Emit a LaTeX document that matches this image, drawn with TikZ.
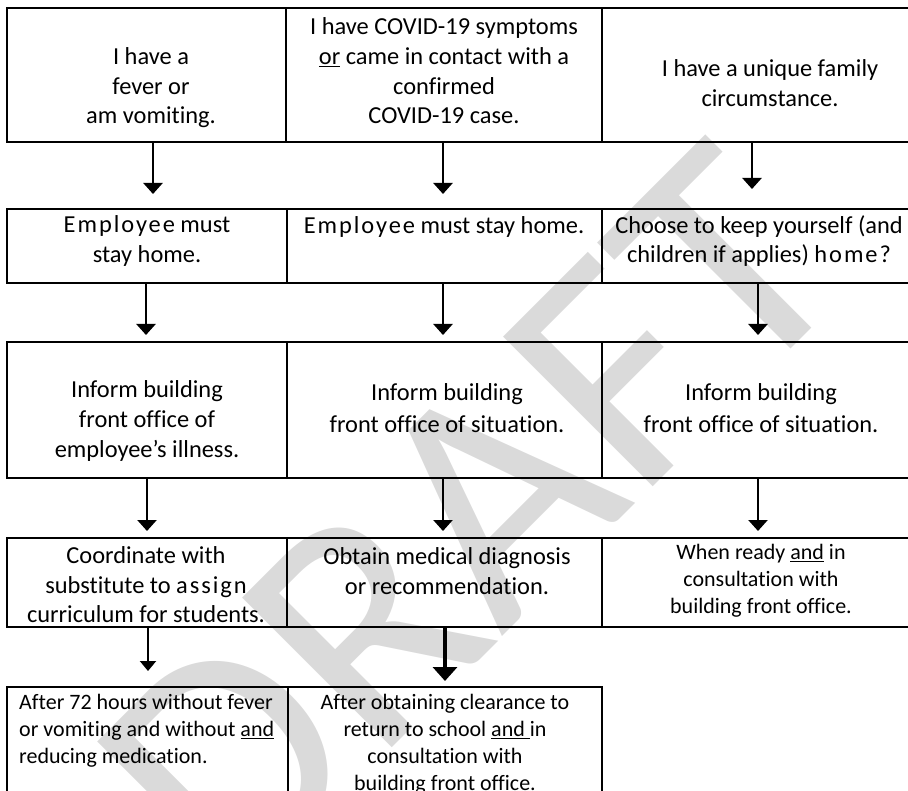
\documentclass[tikz,border=0pt]{standalone}
\usepackage{fontspec}
\setmainfont{Carlito}[Ligatures=CommonOff]
\newfontfamily\lsp[LetterSpace=8,Ligatures=CommonOff]{Carlito}
\usetikzlibrary{arrows.meta}
\definecolor{wmgray}{RGB}{218,218,218}
\tikzset{
  cell/.style={draw, line width=1.5pt, anchor=north west, inner sep=0pt, outer sep=0pt},
  big/.style={font=\fontsize{24.4}{29.6}\selectfont, align=center, inner sep=0pt},
  bigw/.style={font=\fontsize{24.4}{32}\selectfont, align=center, inner sep=0pt},
  small/.style={font=\fontsize{22}{27}\selectfont, align=center, inner sep=0pt},
  smalll/.style={font=\fontsize{22}{27}\selectfont, align=left, inner sep=0pt, anchor=west},
  arr/.style={line width=2.6pt, -{Triangle[width=19pt,length=11pt]}},
  arrthin/.style={line width=2.2pt, -{Triangle[width=16pt,length=10pt]}},
  arrthick/.style={line width=3.6pt, -{Triangle[width=24pt,length=14pt]}},
  wm/.style={text=wmgray, inner sep=0pt, font=\fontsize{330}{330}\selectfont}
}
\begin{document}
\begin{tikzpicture}[x=1pt,y=-1pt]
\useasboundingbox (0,0) rectangle (908,791);
% watermark
\node[wm, rotate=45] (wm) at (470,520) {DRAFT};
% row 1
\node[cell, minimum width=279pt, minimum height=134pt] (r1c1) at (7,8) {};
\node[cell, minimum width=316pt, minimum height=134pt] (r1c2) at (286,8) {};
\node[cell, minimum width=315pt, minimum height=134pt] (r1c3) at (602,8) {};
% row 2
\node[cell, minimum width=280pt, minimum height=74pt] (r2c1) at (7,209) {};
\node[cell, minimum width=315pt, minimum height=74pt] (r2c2) at (287,209) {};
\node[cell, minimum width=315pt, minimum height=74pt] (r2c3) at (602,209) {};
% row 3
\node[cell, minimum width=280pt, minimum height=136pt] (r3c1) at (7,342) {};
\node[cell, minimum width=315pt, minimum height=136pt] (r3c2) at (287,342) {};
\node[cell, minimum width=315pt, minimum height=136pt] (r3c3) at (602,342) {};
% row 4
\node[cell, minimum width=280pt, minimum height=89pt] (r4c1) at (7,538) {};
\node[cell, minimum width=315pt, minimum height=89pt] (r4c2) at (287,538) {};
\node[cell, minimum width=315pt, minimum height=89pt] (r4c3) at (602,538) {};
% row 5
\node[cell, minimum width=281pt, minimum height=140pt] (r5c1) at (7,687) {};
\node[cell, minimum width=314pt, minimum height=140pt] (r5c2) at (288,687) {};

% texts
\node[big] (t11) at (151,88) {I have a\\fever or\\am vomiting.};
\node[big] (t12) at (444,71) {I have COVID-19 symptoms\\\underline{or} came in contact with a\\confirmed\\COVID-19 case.};
\node[big] (t13) at (770,83) {I have a unique family\\circumstance.};
\node[big] (t21) at (147,241) {{\lsp Employee} must\\stay home.};
\node[big] (t22) at (444,227) {{\lsp Employee} must stay home.};
\node[big] (t23) at (759,241) {Choose to keep yourself (and\\children if applies) {\lsp home?}};
\node[big] (t31) at (147,421) {Inform building\\front office of\\employee’s illness.};
\node[bigw] (t32) at (447,408) {Inform building\\front office of situation.};
\node[bigw] (t33) at (761,408) {Inform building\\front office of situation.};
\node[big] (t41) at (146,585) {Coordinate with\\substitute to {\lsp assign}\\curriculum for students.};
\node[big] (t42) at (447,571) {Obtain medical diagnosis\\or recommendation.};
\node[small] (t43) at (761,581) {When ready \underline{and} in\\consultation with\\building front office.};
\node[smalll] (t51) at (19,731) {After 72 hours without fever\\or vomiting and without \underline{and}\\reducing medication.};
\node[small] (t52) at (445,744) {After obtaining clearance to\\return to school \underline{and\ }in\\consultation with\\building front office.};

% arrow tips
\coordinate (a11) at (153,194);
\coordinate (a12) at (443,194);
\coordinate (a13) at (752,189);
\coordinate (a21) at (146,335);
\coordinate (a22) at (443,335);
\coordinate (a23) at (758,335);
\coordinate (a31) at (147,531);
\coordinate (a32) at (443,531);
\coordinate (a33) at (758,531);
\coordinate (a41) at (148,671);
\coordinate (a42) at (445,681);

\draw[arr] (r1c1.south -| a11) -- (a11);
\draw[arr] (r1c2.south -| a12) -- (a12);
\draw[arr] (r1c3.south -| a13) -- (a13);
\draw[arr] (r2c1.south -| a21) -- (a21);
\draw[arr] (r2c2.south -| a22) -- (a22);
\draw[arr] (r2c3.south -| a23) -- (a23);
\draw[arr] (r3c1.south -| a31) -- (a31);
\draw[arr] (r3c2.south -| a32) -- (a32);
\draw[arr] (r3c3.south -| a33) -- (a33);
\draw[arrthin] (r4c1.south -| a41) -- (a41);
\draw[arrthick] (r4c2.south -| a42) -- (a42);
\end{tikzpicture}
\end{document}
